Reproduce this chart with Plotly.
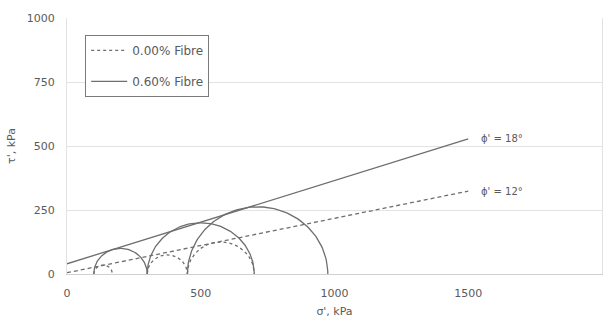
import numpy as np
import plotly.graph_objects as go

# Mohr circles: effective minor / major principal stresses (kPa)
sigma3_plain = [100, 300, 450]
sigma1_plain = [170, 450, 700]
sigma3_fibre = [100, 300, 450]
sigma1_fibre = [300, 700, 975]

# Failure envelopes: friction angle (deg) and cohesion intercept (kPa)
phi_plain, c_plain = 12, 5
phi_fibre, c_fibre = 18, 40
envelope_end = 1500

series_names = ["0.00% Fibre", "0.60% Fibre"]
x_ticks = [0, 500, 1000, 1500, 2000]
y_ticks = [0, 250, 500, 750, 1000]

LINE = "#6e6e6e"
TEXT = "#5a5a5a"
GRID = "#e3e3e3"
FONT = "DejaVu Sans"

fig = go.Figure()


def add_circles(s3_list, s1_list, dash, group, name):
    theta = np.linspace(0, np.pi, 121)
    for i, (s3, s1) in enumerate(zip(s3_list, s1_list)):
        centre = (s1 + s3) / 2
        radius = (s1 - s3) / 2
        fig.add_trace(go.Scatter(
            x=centre - radius * np.cos(theta),
            y=radius * np.sin(theta),
            mode="lines",
            line=dict(color=LINE, width=1.3, dash=dash),
            legendgroup=group,
            name=name,
            showlegend=(i == 0),
            hoverinfo="skip",
        ))


def add_envelope(phi, c, dash, group):
    xs = np.array([0, envelope_end])
    ys = c + xs * np.tan(np.radians(phi))
    fig.add_trace(go.Scatter(
        x=xs, y=ys, mode="lines",
        line=dict(color=LINE, width=1.3, dash=dash),
        legendgroup=group, showlegend=False, hoverinfo="skip",
    ))
    fig.add_annotation(
        x=envelope_end + 40, y=ys[-1], xref="x", yref="y",
        text=f"ϕ' = {phi}°", showarrow=False, xanchor="left", yanchor="middle",
        font=dict(family=FONT, size=10, color=TEXT),
    )


add_circles(sigma3_plain, sigma1_plain, "3px,3px", "plain", series_names[0])
add_circles(sigma3_fibre, sigma1_fibre, "solid", "fibre", series_names[1])
add_envelope(phi_plain, c_plain, "4px,3px", "plain")
add_envelope(phi_fibre, c_fibre, "solid", "fibre")

fig.update_layout(
    width=612, height=320,
    margin=dict(l=67, r=10, t=18, b=46),
    paper_bgcolor="white", plot_bgcolor="white",
    font=dict(family=FONT, size=11, color=TEXT),
    legend=dict(
        x=0.034, y=0.934, xanchor="left", yanchor="top",
        bordercolor="#7a7a7a", borderwidth=1, bgcolor="white",
        font=dict(family=FONT, size=12, color=TEXT),
        tracegroupgap=12, itemwidth=36,
    ),
)

fig.update_xaxes(
    range=[0, 2000], tickvals=x_ticks, showgrid=False, zeroline=False,
    showline=True, linecolor="#d0d0d0", linewidth=1, automargin=False,
    ticks="", ticklabelstandoff=9,
    title=dict(text="σ', kPa", font=dict(family=FONT, size=11, color=TEXT), standoff=8),
)
fig.update_yaxes(
    range=[0, 1000], tickvals=y_ticks, showgrid=True, gridcolor=GRID, gridwidth=1,
    zeroline=False, showline=True, linecolor=GRID, mirror=True, automargin=False,
    ticks="", ticklabelstandoff=9,
    title=dict(text="τ', kPa", font=dict(family=FONT, size=11, color=TEXT), standoff=8),
)

fig.write_html("out.html")
